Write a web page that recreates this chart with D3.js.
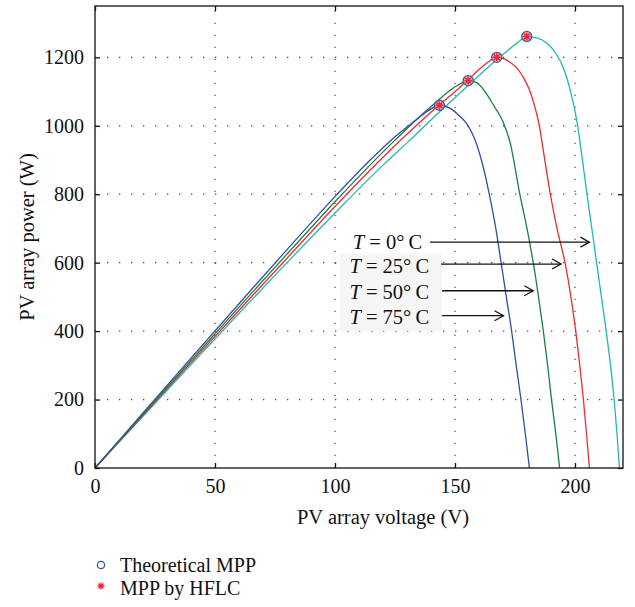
<!DOCTYPE html>
<html>
<head>
<meta charset="utf-8">
<script src="https://cdn.jsdelivr.net/npm/d3@7"></script>
<style>
  body { margin: 0; background: #fff; }
  svg { font-family: "Liberation Serif", "DejaVu Serif", serif; }
</style>
</head>
<body>
<div class="visContainer"></div>
<script>
// curves: voltage (V) / power (W) per temperature
const v75 = [0, 20, 40, 60, 80, 100, 115, 125, 133, 139, 143.5, 148, 152, 155, 158, 161, 164, 167, 169, 171.5, 173.6, 175.5, 177.5, 179.3, 181];
const p75 = [0, 161, 321, 480, 638, 793, 902, 968, 1013, 1045, 1060, 1051, 1028, 1005, 965, 900, 810, 700, 610, 495, 400, 300, 200, 100, 0];

const v50 = [0, 20, 40, 60, 80, 100, 115, 125, 135, 142, 148, 152, 155.5, 159, 163, 166.5, 170, 173, 177, 180, 182.6, 184.8, 186.8, 188.6, 190.2, 192, 193.6];
const p50 = [0, 157, 314, 470, 625, 778, 888, 958, 1025, 1068, 1104, 1122, 1132, 1126, 1095, 1055, 1012, 950, 800, 700, 600, 500, 400, 300, 200, 100, 0];

const v25 = [0, 20, 40, 60, 80, 100, 120, 135, 145, 152, 157, 161, 164.5, 167.4, 170, 172.5, 175.7, 179, 181, 183, 185, 187.3, 189.6, 192.5, 196, 198.3, 200.3, 202, 203.5, 204.8, 206];
const p25 = [0, 154, 308, 461, 613, 764, 908, 1008, 1070, 1112, 1145, 1170, 1190, 1200, 1197, 1188, 1169, 1135, 1105, 1062, 1005, 905, 805, 700, 595, 500, 400, 300, 200, 100, 0];

const v0 = [0, 20, 40, 60, 80, 100, 120, 130, 143.5, 155.5, 167.4, 172, 176, 180, 184, 188.2, 192, 195.1, 198, 201, 203, 205, 207, 209, 211, 213, 214.8, 216.3, 217.5, 218.5];
const p0 = [0, 151, 302, 452, 600, 745, 885, 950, 1040, 1118, 1193, 1220, 1243, 1260, 1257, 1242, 1212, 1170, 1105, 1005, 905, 800, 700, 600, 500, 400, 300, 200, 100, 0];

// MPP markers
const mppV = [143.5, 155.5, 167.4, 179.9];
const mppP = [1060, 1132, 1200, 1261];

const xTicks = [0, 50, 100, 150, 200];
const yTicks = [0, 200, 400, 600, 800, 1000, 1200];

const tempLabels = ['0', '25', '50', '75'];
const arrowTipV = [206, 194.2, 182.6, 170.2];
const legendLabels = ['Theoretical MPP', 'MPP by HFLC'];

const series = [
  { v: v0, p: p0, color: '#22b6b8' },
  { v: v25, p: p25, color: '#ee2a2e' },
  { v: v50, p: p50, color: '#1b7f3e' },
  { v: v75, p: p75, color: '#2f4fa6' }
];

const width = 635;
const height = 607;
const mLeft = 95, mRight = 623, mTop = 6, mBottom = 468;

const svg = d3.select('.visContainer')
  .append('svg')
  .attr('width', width)
  .attr('height', height);

const xScale = d3.scaleLinear().domain([0, 220]).range([mLeft, mRight]);
const yScale = d3.scaleLinear().domain([0, 1350]).range([mBottom, mTop]);

// dotted grid
const grid = svg.append('g')
  .attr('stroke', '#444')
  .attr('stroke-width', 1.2)
  .attr('stroke-dasharray', '1.3,10.7');
grid.selectAll('.gx')
  .data(xTicks.filter(d => d > 0))
  .enter().append('line')
  .attr('x1', d => xScale(d)).attr('x2', d => xScale(d))
  .attr('y1', mBottom).attr('y2', mTop);
grid.selectAll('.gy')
  .data(yTicks.filter(d => d > 0))
  .enter().append('line')
  .attr('y1', d => yScale(d)).attr('y2', d => yScale(d))
  .attr('x1', mLeft).attr('x2', mRight);

// light box behind the lower temperature labels
svg.append('rect')
  .attr('x', xScale(101.9))
  .attr('y', yScale(627))
  .attr('width', xScale(144.6) - xScale(101.9))
  .attr('height', yScale(400) - yScale(627))
  .attr('fill', '#f5f6f5');

// curves
const line = d3.line()
  .x(d => xScale(d[0]))
  .y(d => yScale(d[1]))
  .curve(d3.curveMonotoneX);

svg.selectAll('.curve')
  .data(series)
  .enter().append('path')
  .attr('class', 'curve')
  .attr('d', s => line(s.v.map((v, i) => [v, s.p[i]])))
  .attr('fill', 'none')
  .attr('stroke', s => s.color)
  .attr('stroke-width', 1.3);

// axes (MATLAB style: ticks inside, box all round)
const xAxis = d3.axisBottom(xScale).tickValues(xTicks).tickFormat(d3.format('d'))
  .tickSizeInner(-5).tickSizeOuter(0).tickPadding(11);
const yAxis = d3.axisLeft(yScale).tickValues(yTicks).tickFormat(d3.format('d'))
  .tickSizeInner(-5).tickSizeOuter(0).tickPadding(11);

svg.append('g')
  .attr('transform', 'translate(0,' + mBottom + ')')
  .call(xAxis);
svg.append('g')
  .attr('transform', 'translate(' + mLeft + ',0)')
  .call(yAxis);
svg.append('g')
  .attr('transform', 'translate(0,' + mTop + ')')
  .call(d3.axisTop(xScale).tickValues(xTicks).tickSizeInner(-5).tickSizeOuter(0).tickFormat(''));
svg.append('g')
  .attr('transform', 'translate(' + mRight + ',0)')
  .call(d3.axisRight(yScale).tickValues(yTicks).tickSizeInner(-5).tickSizeOuter(0).tickFormat(''));

svg.selectAll('.domain').remove();
svg.selectAll('.tick line').attr('stroke', '#111').attr('stroke-width', 1.3);
svg.selectAll('.tick text')
  .attr('font-family', '"Liberation Serif", serif')
  .attr('font-size', 20)
  .attr('fill', '#111');

svg.append('rect')
  .attr('x', mLeft).attr('y', mTop)
  .attr('width', mRight - mLeft).attr('height', mBottom - mTop)
  .attr('fill', 'none')
  .attr('stroke', '#222')
  .attr('stroke-width', 1.4);

// MPP markers
const mpp = svg.selectAll('.mpp')
  .data(mppV.map((v, i) => [v, mppP[i]]))
  .enter().append('g')
  .attr('transform', d => 'translate(' + xScale(d[0]) + ',' + yScale(d[1]) + ')');
mpp.append('circle')
  .attr('r', 5)
  .attr('fill', '#f7c9cc')
  .attr('stroke', '#3d56a8')
  .attr('stroke-width', 1.3);
const star = 'M-4,0L4,0M0,-4L0,4M-2.9,-2.9L2.9,2.9M-2.9,2.9L2.9,-2.9';
mpp.append('path')
  .attr('d', star)
  .attr('stroke', '#ee2a2e')
  .attr('stroke-width', 1.6);

// temperature annotations
const labelStartV = [107.4, 106, 106, 106];
const labelP = [640, 571, 494, 422];
const arrowP = [660, 596, 518, 445];
const arrowStartV = [139.6, 144.2, 144.6, 144.6];

tempLabels.forEach((t, i) => {
  const txt = svg.append('text')
    .attr('x', xScale(labelStartV[i]))
    .attr('y', yScale(labelP[i]))
    .attr('font-size', 20.5)
    .attr('fill', '#111');
  txt.append('tspan').attr('font-style', 'italic').text('T');
  txt.append('tspan').text(' = ' + t + '°\u2009C');

  const y = yScale(arrowP[i]);
  const x1 = xScale(arrowStartV[i]);
  const x2 = xScale(arrowTipV[i]);
  svg.append('line')
    .attr('x1', x1).attr('x2', x2)
    .attr('y1', y).attr('y2', y)
    .attr('stroke', '#111').attr('stroke-width', 1.3);
  svg.append('path')
    .attr('d', 'M' + (x2 - 9) + ',' + (y - 5) + 'L' + x2 + ',' + y + 'L' + (x2 - 9) + ',' + (y + 5))
    .attr('fill', 'none')
    .attr('stroke', '#111').attr('stroke-width', 1.3);
});

// axis titles
svg.append('text')
  .attr('x', 383)
  .attr('y', 524)
  .attr('text-anchor', 'middle')
  .attr('font-size', 20.5)
  .attr('fill', '#111')
  .text('PV array voltage (V)');

svg.append('text')
  .attr('transform', 'translate(34,' + ((mTop + mBottom) / 2) + ') rotate(-90)')
  .attr('text-anchor', 'middle')
  .attr('font-size', 20.5)
  .attr('fill', '#111')
  .text('PV array power (W)');

// legend
const legend = svg.append('g');
legend.append('circle')
  .attr('cx', 101).attr('cy', 565)
  .attr('r', 3.6)
  .attr('fill', 'none')
  .attr('stroke', '#3d56a8')
  .attr('stroke-width', 1.3);
legend.append('path')
  .attr('transform', 'translate(101,586)')
  .attr('d', 'M-3.5,0L3.5,0M0,-3.5L0,3.5M-2.5,-2.5L2.5,2.5M-2.5,2.5L2.5,-2.5')
  .attr('stroke', '#ee2a2e')
  .attr('stroke-width', 1.3);
legend.selectAll('.ltext')
  .data(legendLabels)
  .enter().append('text')
  .attr('x', 120)
  .attr('y', (d, i) => 572 + i * 23)
  .attr('font-size', 20)
  .attr('fill', '#111')
  .text(d => d);
</script>
</body>
</html>
